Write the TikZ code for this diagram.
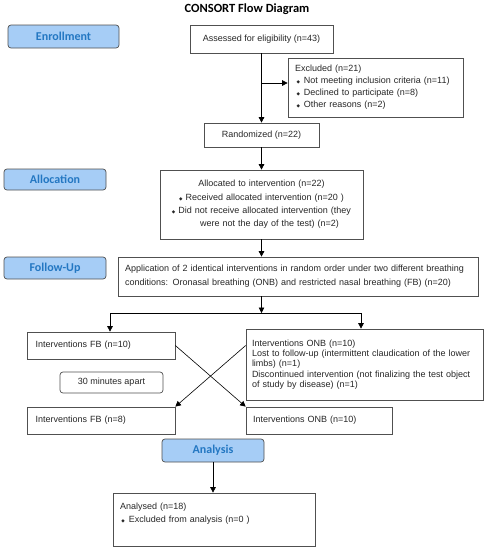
\documentclass[tikz,border=0pt]{standalone}
\usepackage{fontspec}
\setmainfont{Liberation Sans}
\newfontfamily\calib{Carlito}
\newfontfamily\dejavu{DejaVu Sans}
\usetikzlibrary{arrows.meta}
\newcommand\bul{{\dejavu\fontsize{4.5}{4.5}\selectfont ◆}}
\definecolor{btnfill}{HTML}{A6CDF6}
\definecolor{btntext}{HTML}{2377C2}
\definecolor{boxline}{HTML}{505050}
\tikzset{
  box/.style={draw=boxline, line width=0.7pt, inner sep=0pt, text=black!85},
  btn/.style={draw=boxline, line width=0.7pt, rounded corners=3pt, fill=btnfill, text=btntext,
    font=\calib\bfseries\fontsize{12}{14}\selectfont, inner sep=0pt},
  arr/.style={-{Triangle[length=5.5pt,width=5.5pt]}, line width=0.6pt},
  ln/.style={line width=0.6pt}
}
\begin{document}
\begin{tikzpicture}[x=1pt,y=-1pt]
\useasboundingbox (0,0) rectangle (487,550);
\node[font=\calib\bfseries\fontsize{12.5}{14}\selectfont] (title) at (247,9) {CONSORT Flow Diagram};
% buttons
\node[btn, minimum width=111pt, minimum height=23pt] (enr) at (63.5,36.5) {Enrollment};
\node[btn, minimum width=102pt, minimum height=21pt] (allocb) at (55,179.5) {Allocation};
\node[btn, minimum width=102pt, minimum height=22pt] (follow) at (55,268) {Follow-Up};
\node[btn, minimum width=102pt, minimum height=23pt] (analb) at (213,450.5) {Analysis};
% boxes
\node[box, minimum width=143pt, minimum height=28pt, font=\fontsize{9}{11}\selectfont] (assess) at (261.5,39) {Assessed for eligibility (n=43)};
\node[box, minimum width=175pt, minimum height=59pt, text width=161pt, inner xsep=7pt, align=left,
  font=\fontsize{9}{12}\selectfont] (excl) at (375.5,87.5)
  {Excluded (n=21)\\
   \hspace*{1.5pt}\bul\hspace{4pt}Not meeting inclusion criteria (n=11)\\
   \hspace*{1.5pt}\bul\hspace{4pt}Declined to participate (n=8)\\
   \hspace*{1.5pt}\bul\hspace{4pt}Other reasons (n=2)};
\node[box, minimum width=115pt, minimum height=24pt, font=\fontsize{9}{11}\selectfont] (rand) at (261.5,135) {Randomized (n=22)};
\node[box, minimum width=203pt, minimum height=69pt, text width=203pt, align=center,
  font=\fontsize{9}{13.3}\selectfont] (alloc) at (261.5,204.5)
  {Allocated to intervention (n=22)\\
   \bul\hspace{3pt}Received allocated intervention (n=20 )\\
   \bul\hspace{3pt}Did not receive allocated intervention (they\\
   \hspace*{16pt}were not the day of the test) (n=2)};
\node[box, minimum width=360pt, minimum height=39pt, text width=346pt, inner xsep=7pt, align=left,
  font=\fontsize{9}{13.8}\selectfont] (app) at (298,276.5)
  {Application of 2 identical interventions in random order under two different breathing\\
   conditions: Oronasal breathing (ONB) and restricted nasal breathing (FB) (n=20)};
\node[box, minimum width=148pt, minimum height=27pt, text width=139pt, inner xsep=4.5pt, align=left,
  font=\fontsize{9}{11}\selectfont] (fb1) at (101,345.5) {\hspace*{4pt}Interventions FB (n=10)};
\node[box, minimum width=237pt, minimum height=71pt, text width=225pt, inner xsep=6pt, align=left,
  font=\fontsize{9}{10.4}\selectfont] (onb1) at (364.5,364.5)
  {Interventions ONB (n=10)\\
   Lost to follow-up (intermittent claudication of the lower\\
   limbs) (n=1)\\
   Discontinued intervention (not finalizing the test object\\
   of study by disease) (n=1)};
\node[box, rounded corners=3pt, minimum width=103pt, minimum height=21pt, font=\fontsize{9}{11}\selectfont] (apart) at (111.5,382.5) {30 minutes apart};
\node[box, minimum width=148pt, minimum height=27pt, text width=139pt, inner xsep=4.5pt, align=left,
  font=\fontsize{9}{11}\selectfont] (fb2) at (101,420.5) {\hspace*{4pt}Interventions FB (n=8)};
\node[box, minimum width=146pt, minimum height=27pt, text width=132pt, inner xsep=7pt, align=left,
  font=\fontsize{9}{11}\selectfont] (onb2) at (319,420.5) {Interventions ONB (n=10)};
\node[box, minimum width=202pt, minimum height=53pt, text width=188pt, inner xsep=7pt, align=left,
  font=\fontsize{9}{13}\selectfont] (analysed) at (214,519.5)
  {Analysed (n=18)\\
   \hspace*{1.5pt}\bul\hspace{4pt}Excluded from analysis (n=0 )\\
   \mbox{}};
% connectors
\coordinate (br) at (261.5,83);
\draw[arr] (assess.south) -- (rand.north);
\draw[arr] (br) -- (br -| excl.west);
\draw[arr] (rand.south) -- (alloc.north);
\draw[arr] (alloc.south) -- (alloc.south |- app.north);
\coordinate (split) at (261.5,313);
\coordinate (sl) at (110,313);
\coordinate (sr) at (361,313);
\draw[arr] (split |- app.south) -- (split);
\draw[ln] (sl) -- (sr);
\draw[arr] (sl) -- (sl |- fb1.north);
\draw[arr] (sr) -- (sr |- onb1.north);
\draw[arr] (fb1.east) -- (onb2.north west);
\draw[arr] (onb1.west |- fb1.east) -- (fb2.north east);
\draw[arr] (analb.south) -- (analb.south |- analysed.north);
\end{tikzpicture}
\end{document}
